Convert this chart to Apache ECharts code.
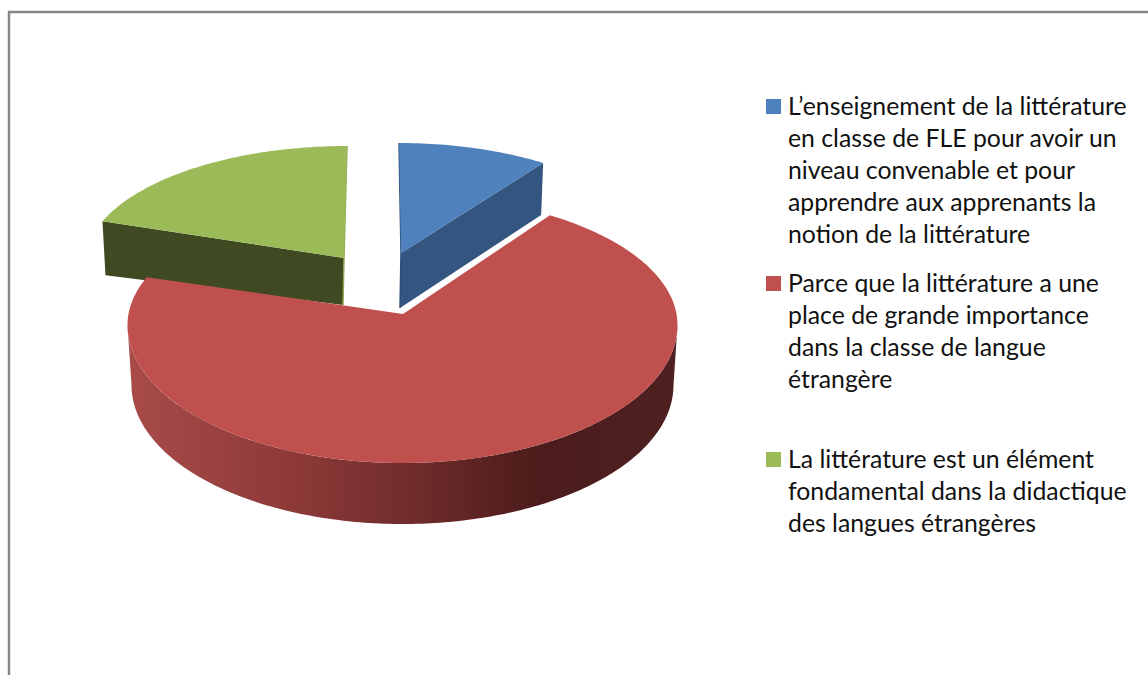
<!DOCTYPE html>
<html>
<head>
<meta charset="utf-8">
<style>html,body{margin:0;padding:0;background:#fff}#c{width:1148px;height:675px}#c text{font-variant-ligatures:none}</style>
<script src="https://cdn.jsdelivr.net/npm/echarts@6/dist/echarts.min.js"></script>
</head>
<body>
<div id="c"></div>
<script>
const categories = [
  "L’enseignement de la littérature\nen classe de FLE pour avoir un\nniveau convenable et pour\napprendre aux apprenants la\nnotion de la littérature",
  "Parce que la littérature a une\nplace de grande importance\ndans la classe de langue\nétrangère",
  "La littérature est un élément\nfondamental dans la didactique\ndes langues étrangères"
];
const values = [9, 72, 19];
const topColors = ['#4f81bd', '#c0504d', '#9bbb59'];
const wallColors = ['#33557f', '#4f1f1e', '#404a22'];

// Projection of each exploded slice (layout only)
const slices = [
  {cx: 399, cy: 271, rx: 269, ryT: 128, ryB: 128, ax: 401, ay: 253, depthOut: 52, depthIn: 55, shiftOut: -2, z: 1},
  {cx: 402.5, cy: 325, rx: 275, ryT: 130, ryB: 138, ax: 403, ay: 314, z: 2},
  {cx: 347, cy: 265, rx: 263, ryT: 119, ryB: 119, ax: 344, ay: 258, depthOut: 54, depthIn: 47, shiftOut: 3, z: 1}
];
const rimDrop = 60, rimInset = 4;
const total = values.reduce((a, b) => a + b, 0);
const rad = d => d * Math.PI / 180;

function pt(s, deg, dy, inset) {
  const c = Math.cos(rad(deg));
  return [s.cx + (s.rx - (inset || 0)) * Math.sin(rad(deg)),
          s.cy + (dy || 0) - (c > 0 ? s.ryT : s.ryB) * c];
}
function arc(s, a, b, dy, inset) {
  const out = [], n = Math.max(8, Math.ceil(Math.abs(b - a)));
  for (let i = 0; i <= n; i++) out.push(pt(s, a + (b - a) * i / n, dy, inset));
  return out;
}

function renderItem(params, api) {
  const i = params.dataIndex, s = slices[i];
  let start = 0;
  for (let k = 0; k < i; k++) start += values[k];
  const a0 = start / total * 360;
  const a1 = (start + api.value(0)) / total * 360;
  const children = [];
  if (i === 1) {
    const rim = arc(s, 90, 270).concat(arc({...s, ryB: s.ryB + 1}, 270, 90, rimDrop, rimInset));
    children.push({
      type: 'polygon', z2: s.z, shape: {points: rim},
      style: {fill: new echarts.graphic.LinearGradient(0, 0, 1, 0, [
        {offset: 0, color: '#a84b49'},
        {offset: 0.3, color: '#8d3a38'},
        {offset: 0.55, color: '#6b2a29'},
        {offset: 0.75, color: '#4b1c1b'},
        {offset: 1, color: '#4f2020'}
      ])}
    });
  } else {
    const outer = pt(s, i === 0 ? a1 : a0);
    const wall = [[s.ax, s.ay], outer,
      [outer[0] + s.shiftOut, outer[1] + s.depthOut],
      [s.ax - 1, s.ay + s.depthIn]];
    children.push({type: 'polygon', z2: s.z, shape: {points: wall}, style: {fill: wallColors[i]}});
    const inner = pt(s, i === 0 ? a0 : a1);
    children.push({
      type: 'polyline', z2: s.z,
      shape: {points: [inner, [s.ax, s.ay], [s.ax - 1, s.ay + s.depthIn]]},
      style: {fill: null, stroke: i === 0 ? '#2d4d75' : '#8aa650', lineWidth: 1.5}
    });
  }
  children.push({
    type: 'polygon', z2: s.z + 1,
    shape: {points: [[s.ax, s.ay]].concat(arc(s, a0, a1))},
    style: {fill: topColors[i]}
  });
  return {type: 'group', children};
}

const legendSquares = [[766, 99], [766, 276], [766, 452]];
const legendText = [[788, 89], [788, 266], [788, 442]];
const graphics = [{
  type: 'rect', silent: true, z: -1,
  shape: {x: 9, y: 12, width: 1300, height: 800},
  style: {fill: '#fff', stroke: '#868686', lineWidth: 2.4}
}];
categories.forEach((name, i) => {
  graphics.push({type: 'rect', silent: true,
    shape: {x: legendSquares[i][0], y: legendSquares[i][1], width: 15, height: 15},
    style: {fill: topColors[i]}});
  graphics.push({type: 'text', silent: true,
    x: legendText[i][0], y: legendText[i][1],
    style: {text: name, fill: '#111', font: '24.8px Lato, Carlito, sans-serif', lineHeight: 32.2, textVerticalAlign: 'top'}});
});

const chart = echarts.init(document.getElementById('c'), null, {renderer: 'svg'});
chart.setOption({
  animation: false,
  backgroundColor: '#fff',
  graphic: graphics,
  series: [{
    type: 'custom',
    coordinateSystem: 'none',
    silent: true,
    renderItem,
    data: values.map((v, i) => ({value: [v], name: categories[i]}))
  }]
});
</script>
</body>
</html>
